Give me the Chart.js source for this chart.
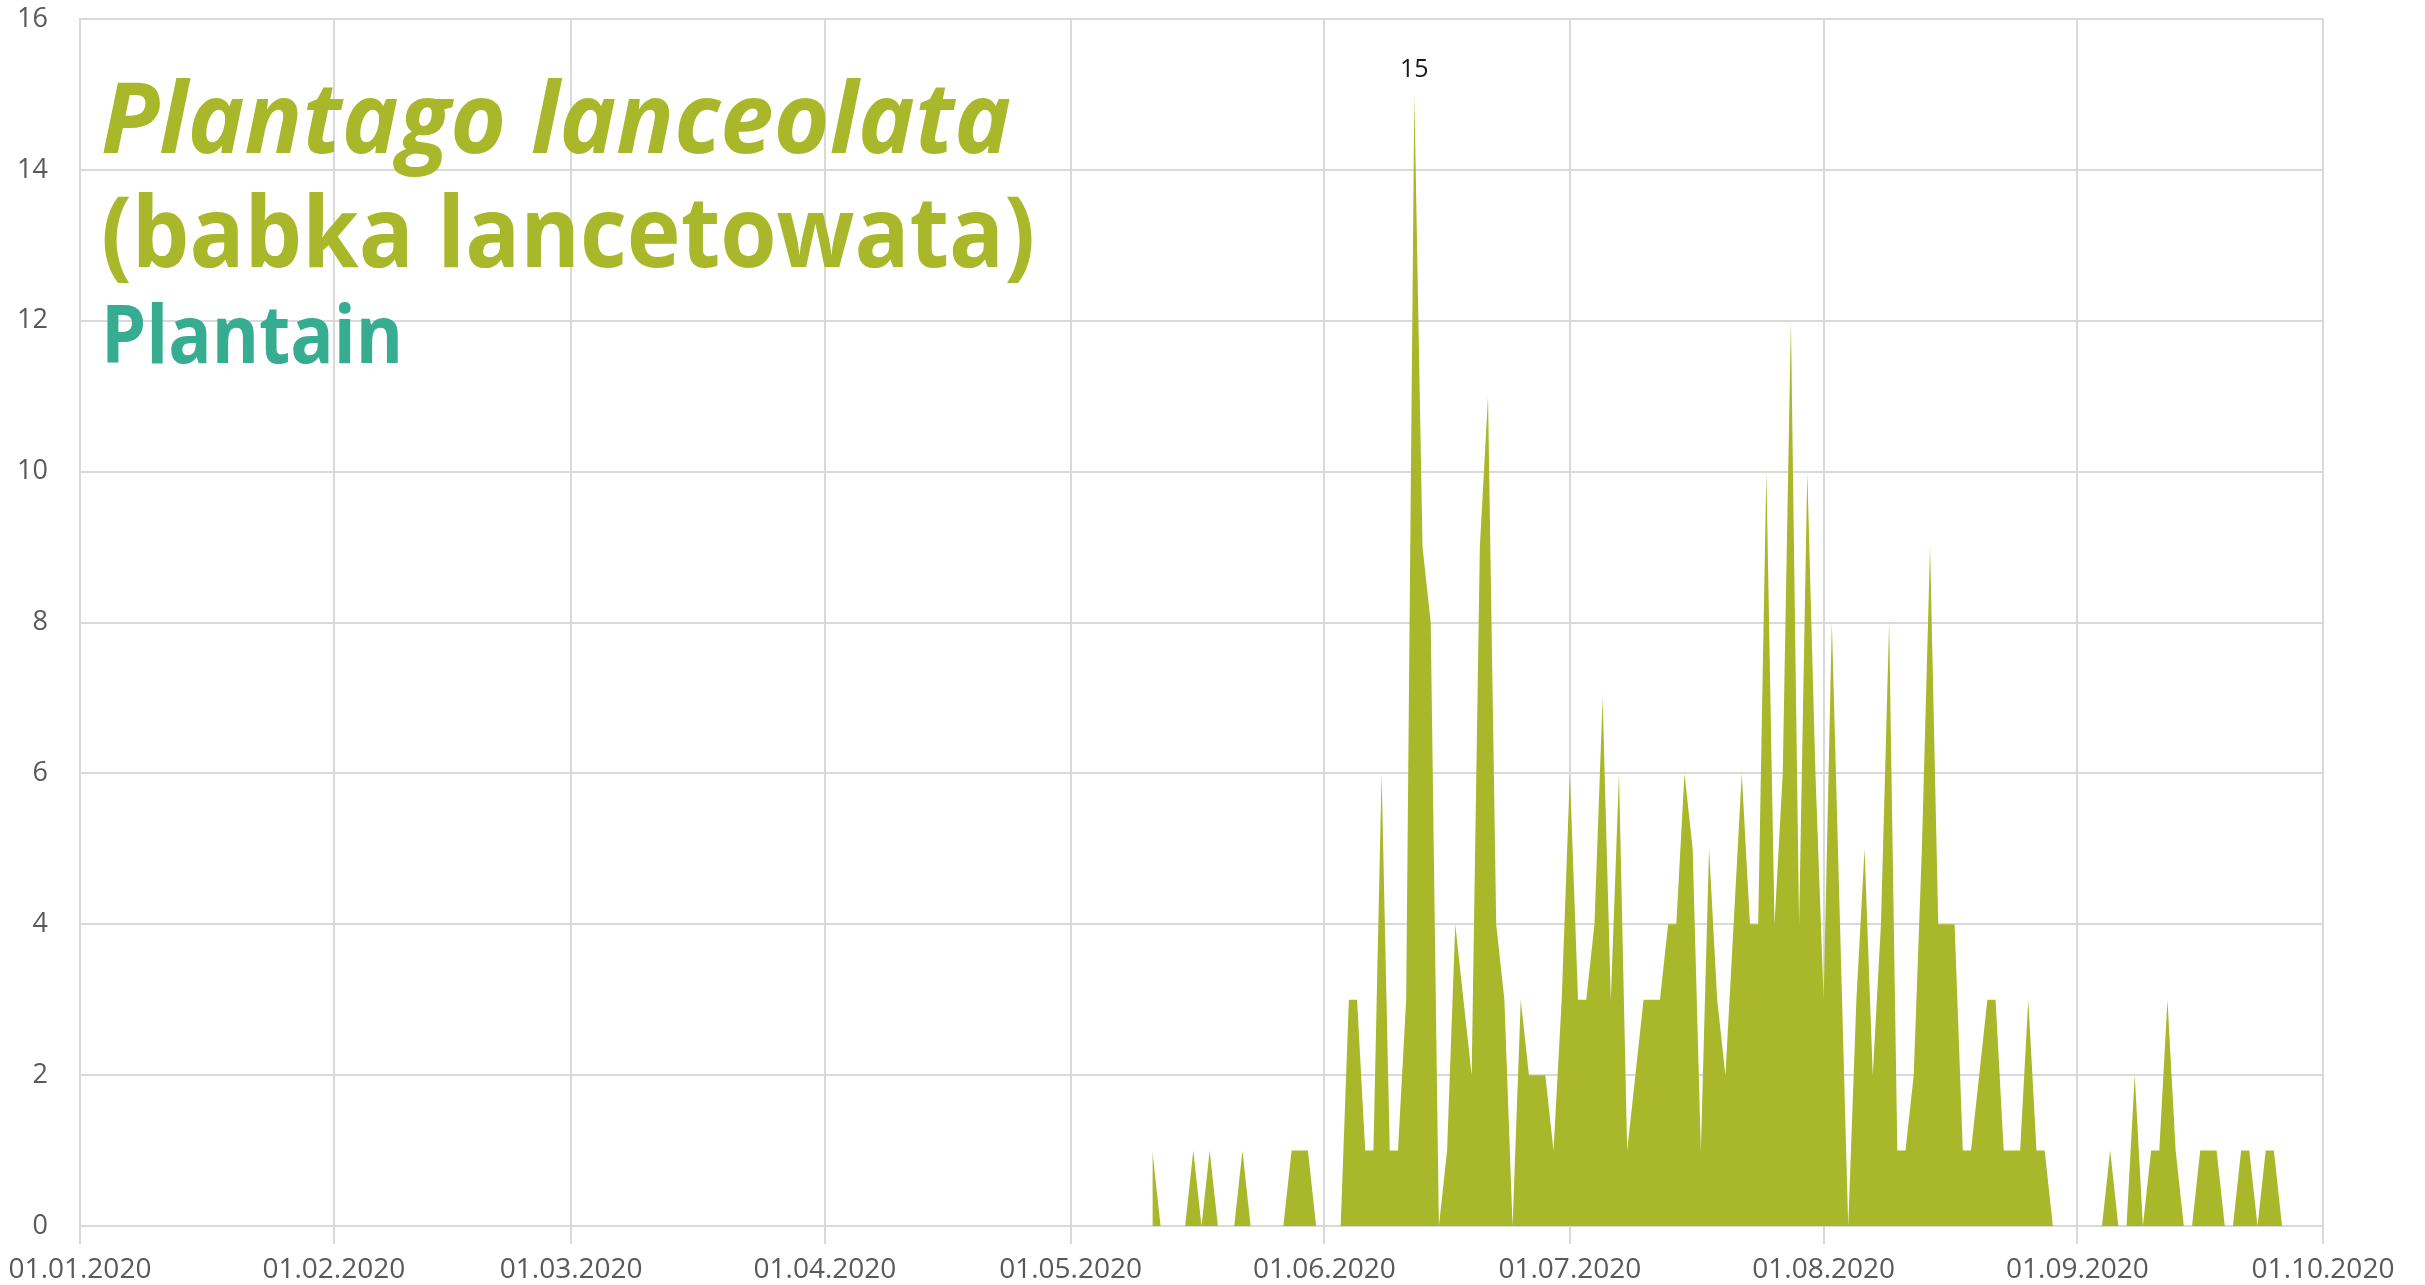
<!DOCTYPE html>
<html>
<head>
<meta charset="utf-8">
<script src="https://cdn.jsdelivr.net/npm/chart.js@4.4.1/dist/chart.umd.min.js"></script>
<style>
  body { margin: 0; background: #fff; }
  #wrap { width: 2425px; height: 1285px; }
</style>
</head>
<body>
<div id="wrap"><canvas id="pollenChart" width="2425" height="1285"></canvas></div>
<script>
// day index counted from 01.01.2020
const monthTicks = [0, 31, 60, 91, 121, 152, 182, 213, 244, 274]
const monthLabels = ['01.01.2020', '01.02.2020', '01.03.2020', '01.04.2020', '01.05.2020',
    '01.06.2020', '01.07.2020', '01.08.2020', '01.09.2020', '01.10.2020']
const yTicks = [0, 2, 4, 6, 8, 10, 12, 14, 16]

// daily counts, first value is 11.05.2020
const firstDay = 131
const pollenCounts = [
    1, 0, 0, 0, 0, 1, 0, 1, 0, 0,
    0, 1, 0, 0, 0, 0, 0, 1, 1, 1,
    0, 0, 0, 0, 3, 3, 1, 1, 6, 1,
    1, 3, 15, 9, 8, 0, 1, 4, 3, 2,
    9, 11, 4, 3, 0, 3, 2, 2, 2, 1,
    3, 6, 3, 3, 4, 7, 3, 6, 1, 2,
    3, 3, 3, 4, 4, 6, 5, 1, 5, 3,
    2, 4, 6, 4, 4, 10, 4, 6, 12, 4,
    10, 6, 3, 8, 4, 0, 3, 5, 2, 4,
    8, 1, 1, 2, 5, 9, 4, 4, 4, 1,
    1, 2, 3, 3, 1, 1, 1, 3, 1, 1,
    0, 0, 0, 0, 0, 0, 0, 1, 0, 0,
    2, 0, 1, 1, 3, 1, 0, 0, 1, 1,
    1, 0, 0, 1, 1, 0, 1, 1, 0
]

const titleLines = [
    { text: 'Plantago lanceolata', font: 'italic bold 98px "Open Sans"', color: '#a8b82a', x: 101, y: 153, width: 910 },
    { text: '(babka lancetowata)', font: 'bold 98px "Open Sans"', color: '#a8b82a', x: 101, y: 267, width: 934 },
    { text: 'Plantain', font: 'bold 80px "Open Sans"', color: '#36ad91', x: 101, y: 363, width: 302 }
]

const olive = '#a8b82a'
const gridGrey = '#d9d9d9'

// title drawn inside the plot area, top-left
const titlePlugin = {
    id: 'plotTitle',
    afterDraw(chart) {
        const ctx = chart.ctx
        titleLines.forEach(line => {
            ctx.save()
            ctx.font = line.font
            ctx.fillStyle = line.color
            ctx.textBaseline = 'alphabetic'
            const w = ctx.measureText(line.text).width
            ctx.translate(line.x, line.y)
            ctx.scale(line.width / w, 1)
            ctx.fillText(line.text, 0, 0)
            ctx.restore()
        })
    }
}

// value label above the highest point
const peakLabel = {
    id: 'peakLabel',
    afterDatasetsDraw(chart) {
        const meta = chart.getDatasetMeta(0)
        const maxVal = Math.max(...pollenCounts)
        const idx = pollenCounts.indexOf(maxVal)
        const pt = meta.data[idx]
        const ctx = chart.ctx
        ctx.save()
        ctx.font = '25px "Open Sans"'
        ctx.fillStyle = '#1a1a1a'
        ctx.textAlign = 'center'
        ctx.textBaseline = 'bottom'
        ctx.fillText(String(maxVal), pt.x, pt.y - 12)
        ctx.restore()
    }
}

new Chart(document.getElementById('pollenChart').getContext('2d'), {
    type: 'line',
    data: {
        datasets: [
            {
                label: 'Plantago lanceolata',
                data: pollenCounts.map((v, i) => ({ x: firstDay + i, y: v })),
                fill: 'origin',
                backgroundColor: olive,
                borderWidth: 0,
                pointRadius: 0,
                tension: 0
            }
        ]
    },
    options: {
        responsive: false,
        devicePixelRatio: 1,
        animation: false,
        layout: { padding: { top: 19, right: 102, left: 0, bottom: 0 } },
        plugins: {
            legend: { display: false },
            tooltip: { enabled: false }
        },
        scales: {
            x: {
                type: 'linear',
                min: 0,
                max: 274,
                afterBuildTicks: scale => { scale.ticks = monthTicks.map(v => ({ value: v })) },
                afterFit: scale => {
                    scale.height = 59
                    scale.paddingLeft = 0
                    scale.paddingRight = 0
                },
                grid: { color: gridGrey, lineWidth: 2, tickLength: 18, drawTicks: true },
                border: { color: gridGrey, width: 2 },
                ticks: {
                    autoSkip: false,
                    maxRotation: 0,
                    padding: 9,
                    color: '#595959',
                    font: { family: 'Open Sans', size: 28 },
                    callback: v => monthLabels[monthTicks.indexOf(v)]
                }
            },
            y: {
                min: 0,
                max: 16,
                afterBuildTicks: scale => { scale.ticks = yTicks.map(v => ({ value: v })) },
                afterFit: scale => {
                    scale.width = 80
                    scale.paddingTop = 0
                    scale.paddingBottom = 0
                },
                grid: { color: gridGrey, lineWidth: 2, drawTicks: false },
                border: { color: gridGrey, width: 2 },
                ticks: {
                    padding: 32,
                    color: '#595959',
                    font: { family: 'Open Sans', size: 27 }
                }
            }
        }
    },
    plugins: [titlePlugin, peakLabel]
})
</script>
</body>
</html>
